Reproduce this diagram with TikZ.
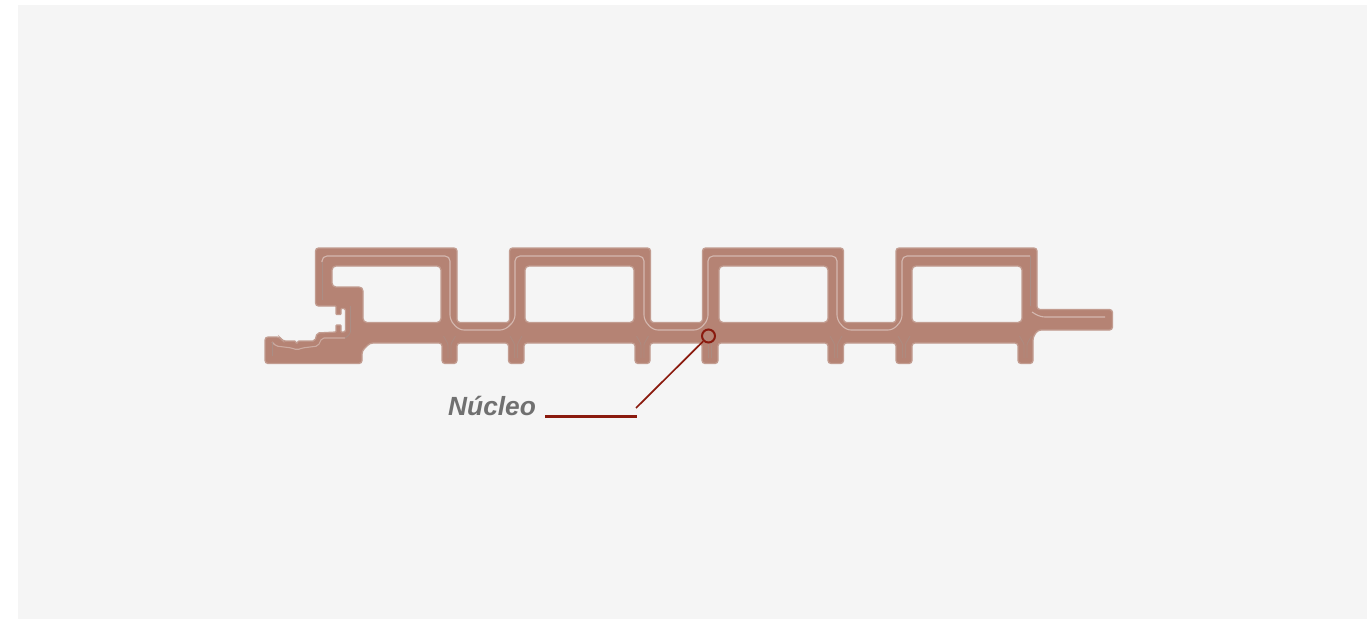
\documentclass[tikz,border=0pt]{standalone}
\usepackage{fontspec}
\setmainfont{Liberation Sans}
\definecolor{panel}{HTML}{F5F5F5}
\definecolor{wood}{HTML}{B58374}
\definecolor{woodedge}{HTML}{C29C90}
\definecolor{glint}{HTML}{DCC6BF}
\definecolor{seam}{HTML}{A89088}
\definecolor{leader}{HTML}{8A1A0E}
\definecolor{caption}{HTML}{707070}
\tikzset{
  profile/.style={fill=wood,draw=woodedge,line width=1.3pt,even odd rule},
  glintline/.style={draw=glint,line width=1.1pt,rounded corners=5pt,opacity=.8},
  seamline/.style={draw=seam,line width=.9pt,rounded corners=3pt,opacity=.8},
  leaderthin/.style={draw=leader,line width=1.7pt},
  leaderthick/.style={draw=leader,line width=3pt},
  corering/.style={circle,draw=leader,line width=2pt,minimum size=13pt,inner sep=0pt},
  captiontext/.style={text=caption,font=\fontsize{26.3}{26.3}\selectfont\bfseries\itshape,inner sep=0pt,anchor=base west}
}
\begin{document}
\begin{tikzpicture}[x=1pt,y=-1pt]
\useasboundingbox (0,0) rectangle (1367,619);
\fill[white] (0,0) rectangle (1367,619);
\fill[panel] (18,5) rectangle (1367,619);
% profile
\path[profile,rounded corners=3pt]
 (315.5,248) -- (457,248) -- (457,322.5) -- (509.5,322.5) -- (509.5,248) -- (650.5,248) -- (650.5,322.5)
 -- (702.5,322.5) -- (702.5,248) -- (843.5,248) -- (843.5,322.5) -- (896,322.5) -- (896,248) -- (1037,248)
 -- (1037,309.5) -- (1112.5,309.5) -- (1112.5,330) -- (1038,330) -- (1033,337) -- (1033,363.5) -- (1018,363.5)
 -- (1018,343) -- (912,343) -- (912,363.5) -- (896,363.5) -- (896,343) -- (843.5,343) -- (843.5,363.5)
 -- (828,363.5) -- (828,343) -- (718,343) -- (718,363.5) -- (702,363.5) -- (702,343) -- (650,343)
 -- (650,363.5) -- (635,363.5) -- (635,343) -- (524,343) -- (524,363.5) -- (508.5,363.5) -- (508.5,343)
 -- (457,343) -- (457,363.5) -- (442,363.5) -- (442,343) -- (370,343) -- (362,351) -- (362,363.5)
 -- (265,363.5) -- (265,337) -- (280,337) -- (282.5,341)
 [rounded corners=.5pt] -- (295,341) -- (296.7,343.5) -- (298.5,341) [rounded corners=2pt] -- (315,341) -- (317,333)
 [rounded corners=.8pt] -- (336,332) -- (336,325) -- (341,325) -- (341,332)
 [rounded corners=2pt] -- (345.5,332) -- (345.5,308.5) [rounded corners=.8pt] -- (341,308.5) -- (341,314.5) -- (336,314.5) -- (336,306)
 [rounded corners=3pt] -- (315.5,306) -- cycle
 [rounded corners=4pt]
 (332,266) -- (441,266) -- (441,322.5) -- (363,322.5) -- (363,287) -- (332,287) -- cycle
 (525,266) -- (634,266) -- (634,322.5) -- (525,322.5) -- cycle
 (719,266) -- (828,266) -- (828,322.5) -- (719,322.5) -- cycle
 (912,266) -- (1022,266) -- (1022,322.5) -- (912,322.5) -- cycle;
% light seam of the coating
\draw[glintline] (322,262) -- (322,256) -- (450,256) -- (450,320) -- (459,330) -- (505,330) -- (515,320) -- (515,256) -- (644,256) -- (644,320) -- (653,330)
 -- (699,330) -- (708,320) -- (708,256) -- (837,256) -- (837,320) -- (846,330) -- (893,330) -- (902,320) -- (902,256) -- (1030,256);
\draw[glintline] (1032,312) -- (1040,317) -- (1105,317);
\draw[glintline,rounded corners=2pt,opacity=.6] (272,342) -- (276,346) -- (292,348) -- (297,350) -- (302,348) -- (318,346) -- (322,338) -- (345,338);
% darker seam
\draw[seamline] (322,262) -- (322,300);
\draw[seamline] (345,338) -- (350.5,334) -- (350.5,306);
\draw[seamline] (1030,256) -- (1030,306);
\draw[seamline] (272,342) -- (272,356);
\foreach \c in {449.5,516,642.5,710,836,904,1025.5}{
  \draw[seamline,rounded corners=1pt,opacity=.55] (\c-6,336) -- (\c-1.5,344) -- (\c-1.5,358) (\c+6,336) -- (\c+1.5,344) -- (\c+1.5,358);
}
% callout
\node[corering] (core) at (708.5,336) {};
\coordinate (elbow) at (636,408);
\coordinate (ruleL) at (545,416);
\coordinate (ruleR) at (637,416);
\draw[leaderthin] (core) -- (elbow);
\draw[leaderthick] (ruleL) -- (ruleR);
\node[captiontext] (lab) at (448,415) {Núcleo};
\end{tikzpicture}
\end{document}
